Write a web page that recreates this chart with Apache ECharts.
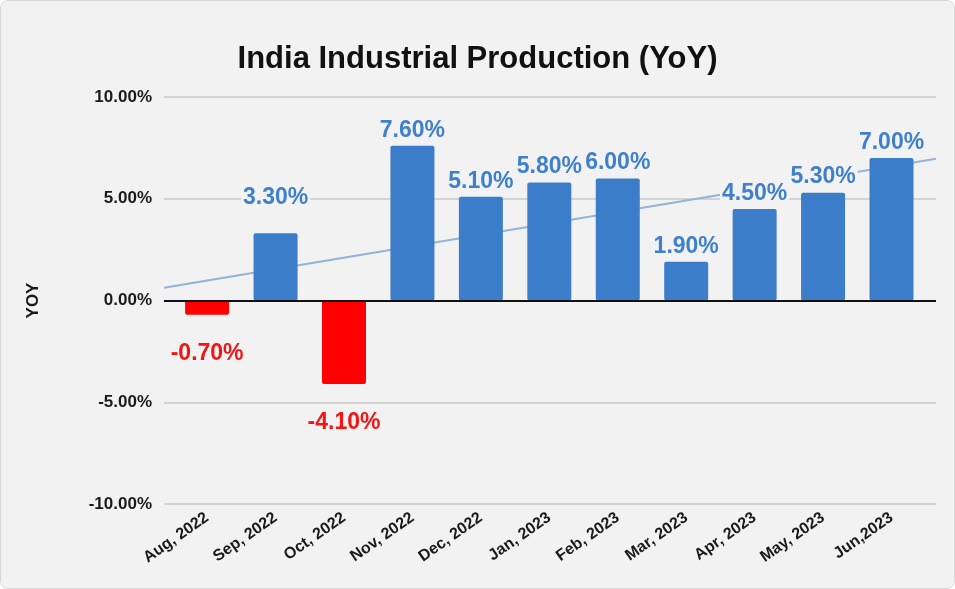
<!DOCTYPE html>
<html>
<head>
<meta charset="utf-8">
<script src="https://cdn.jsdelivr.net/npm/echarts@6/dist/echarts.min.js"></script>
<style>
  html, body { margin: 0; padding: 0; background: #ffffff; }
  #chart { width: 955px; height: 589px; box-sizing: border-box; border: 1px solid #d6d6d6; border-radius: 8px; overflow: hidden; }
</style>
</head>
<body>
<div id="chart"></div>
<script>
// months on the x axis
const months = ['Aug, 2022', 'Sep, 2022', 'Oct, 2022', 'Nov, 2022', 'Dec, 2022', 'Jan, 2023',
  'Feb, 2023', 'Mar, 2023', 'Apr, 2023', 'May, 2023', 'Jun,2023']
// YoY growth, percent
const yoy = [-0.7, 3.3, -4.1, 7.6, 5.1, 5.8, 6.0, 1.9, 4.5, 5.3, 7.0]
const yTicks = [-10, -5, 0, 5, 10]

const blue = '#3b7dc8'
const red = '#ff0000'
const xMin = -0.63, xMax = 10.65

// linear trend line (least squares over the series, like the sheet's trendline)
const n = yoy.length
const mx = (n - 1) / 2
const my = yoy.reduce((a, b) => a + b, 0) / n
let sxy = 0, sxx = 0
yoy.forEach((v, i) => { sxy += (i - mx) * (v - my); sxx += (i - mx) * (i - mx) })
const slope = sxy / sxx
const trend = [xMin, xMax].map(x => [x, my + slope * (x - mx)])

const barData = yoy.map((v, i) => ({
  value: [i, v],
  itemStyle: { color: v < 0 ? red : blue },
  label: v < 0
    ? { position: 'bottom', distance: 27, color: '#f41414' }
    : (i === 1 ? { position: 'top', offset: [0, -20] } : { position: 'top' })
}))

let chart = echarts.init(document.getElementById('chart'))
chart.setOption({
  backgroundColor: '#f2f2f2',
  animation: false,
  title: {
    text: 'India Industrial Production (YoY)',
    left: 'center',
    top: 38,
    textStyle: {
      fontFamily: "'Liberation Sans', Arial, sans-serif",
      fontSize: 31,
      fontWeight: 'bold',
      color: '#111111'
    }
  },
  grid: { left: 163, right: 18, top: 96, bottom: 84 },
  xAxis: {
    type: 'value',
    min: xMin,
    max: xMax,
    splitLine: { show: false },
    axisLine: { show: false },
    axisTick: { show: false },
    axisLabel: {
      customValues: months.map((m, i) => i),
      formatter: v => months[Math.round(v)],
      rotate: 35,
      margin: 12,
      fontFamily: "'Liberation Sans', Arial, sans-serif",
      fontWeight: 'bold',
      fontSize: 16,
      color: '#1a1a1a'
    }
  },
  yAxis: {
    type: 'value',
    min: yTicks[0],
    max: yTicks[yTicks.length - 1],
    interval: 5,
    name: 'YOY',
    nameLocation: 'middle',
    nameRotate: 90,
    nameGap: 122,
    nameTextStyle: {
      fontFamily: "'Liberation Sans', Arial, sans-serif",
      fontWeight: 'bold',
      fontSize: 17,
      color: '#1a1a1a'
    },
    axisLine: { show: false },
    axisTick: { show: false },
    splitLine: { lineStyle: { color: '#c8c8c8', width: 1.5 } },
    axisLabel: {
      margin: 12,
      formatter: v => v.toFixed(2) + '%',
      fontFamily: "'Liberation Sans', Arial, sans-serif",
      fontWeight: 'bold',
      fontSize: 17,
      color: '#1a1a1a'
    }
  },
  series: [
    {
      name: 'trend',
      type: 'line',
      data: trend,
      symbol: 'none',
      silent: true,
      z: 1,
      lineStyle: { color: '#94b3d8', width: 2 }
    },
    {
      name: 'YOY',
      type: 'bar',
      data: barData,
      barWidth: 44,
      z: 3,
      itemStyle: { borderRadius: 2 },
      label: {
        show: true,
        distance: 4,
        formatter: p => p.value[1].toFixed(2) + '%',
        fontFamily: "'Liberation Sans', Arial, sans-serif",
        fontWeight: 'bold',
        fontSize: 23,
        color: '#3f80cc',
        backgroundColor: '#f2f2f2',
        padding: [0, 2]
      },
      markLine: {
        silent: true,
        symbol: 'none',
        label: { show: false },
        lineStyle: { color: '#111111', width: 2, type: 'solid' },
        data: [{ yAxis: 0 }]
      }
    }
  ]
})
</script>
</body>
</html>
